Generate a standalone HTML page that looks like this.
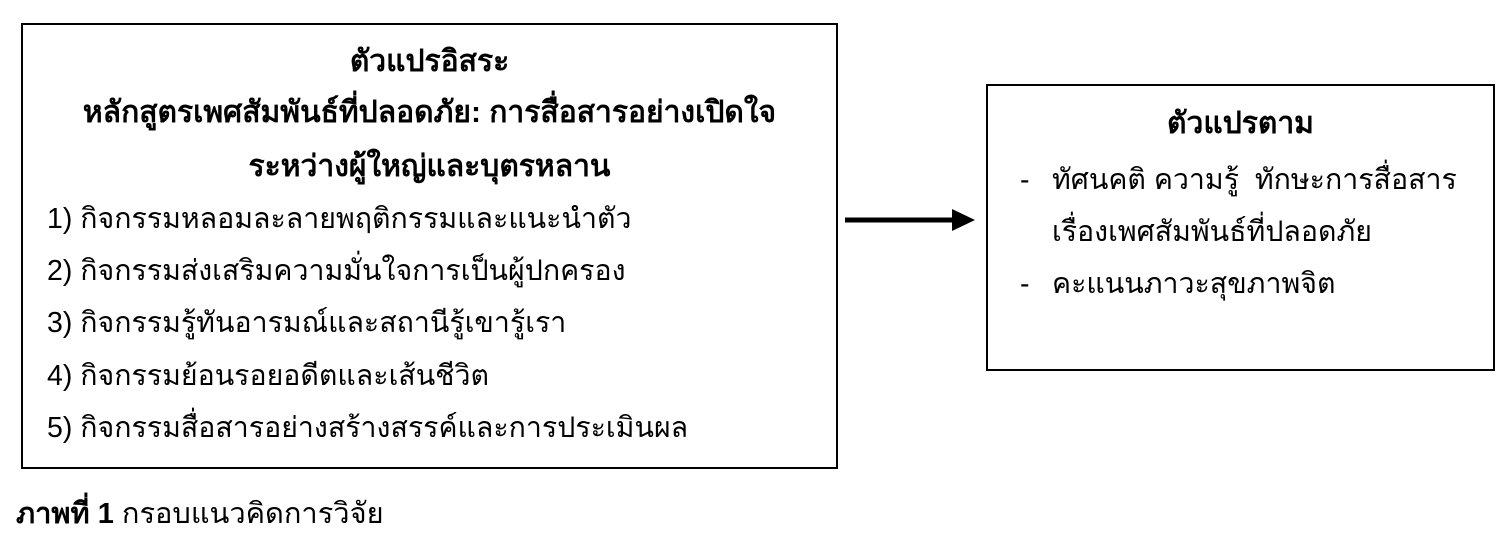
<!DOCTYPE html>
<html><head><meta charset="utf-8"><style>
html,body{margin:0;padding:0;background:#fff;}
body{width:1510px;height:551px;position:relative;overflow:hidden;font-family:"Liberation Sans","DejaVu Sans",sans-serif;color:#000;}
.box{position:absolute;border:2px solid #000;box-sizing:border-box;}
.t{position:absolute;white-space:nowrap;font-size:28.5px;line-height:34px;}
.c{text-align:center;font-weight:bold;font-size:30px;}
</style></head><body>
<div class="box" style="left:21px;top:23px;width:817px;height:446px;"></div>
<div class="t c" style="left:21px;width:817px;top:45px;">ตัวแปรอิสระ</div>
<div class="t c" style="left:21px;width:817px;top:96px;">หลักสูตรเพศสัมพันธ์ที่ปลอดภัย: การสื่อสารอย่างเปิดใจ</div>
<div class="t c" style="left:21px;width:817px;top:150px;">ระหว่างผู้ใหญ่และบุตรหลาน</div>
<div class="t" style="left:47px;top:202px;">1) กิจกรรมหลอมละลายพฤติกรรมและแนะนำตัว</div>
<div class="t" style="left:47px;top:254px;">2) กิจกรรมส่งเสริมความมั่นใจการเป็นผู้ปกครอง</div>
<div class="t" style="left:47px;top:306px;">3) กิจกรรมรู้ทันอารมณ์และสถานีรู้เขารู้เรา</div>
<div class="t" style="left:47px;top:359px;">4) กิจกรรมย้อนรอยอดีตและเส้นชีวิต</div>
<div class="t" style="left:47px;top:411px;">5) กิจกรรมสื่อสารอย่างสร้างสรรค์และการประเมินผล</div>

<svg style="position:absolute;left:0;top:0" width="1510" height="551">
<line x1="845" y1="220" x2="958" y2="220" stroke="#000" stroke-width="5"/>
<polygon points="952,209 975,220 952,231" fill="#000"/>
</svg>

<div class="box" style="left:986px;top:84px;width:509px;height:287px;"></div>
<div class="t c" style="left:986px;width:509px;top:107px;">ตัวแปรตาม</div>
<div class="t" style="left:1020px;top:163px;">-</div>
<div class="t" style="left:1052px;top:163px;">ทัศนคติ ความรู้&nbsp; ทักษะการสื่อสาร</div>
<div class="t" style="left:1052px;top:215px;">เรื่องเพศสัมพันธ์ที่ปลอดภัย</div>
<div class="t" style="left:1020px;top:267px;">-</div>
<div class="t" style="left:1052px;top:267px;">คะแนนภาวะสุขภาพจิต</div>

<div class="t" style="left:16px;top:497px;font-size:29px;"><b>ภาพที่ 1</b> กรอบแนวคิดการวิจัย</div>
</body></html>
